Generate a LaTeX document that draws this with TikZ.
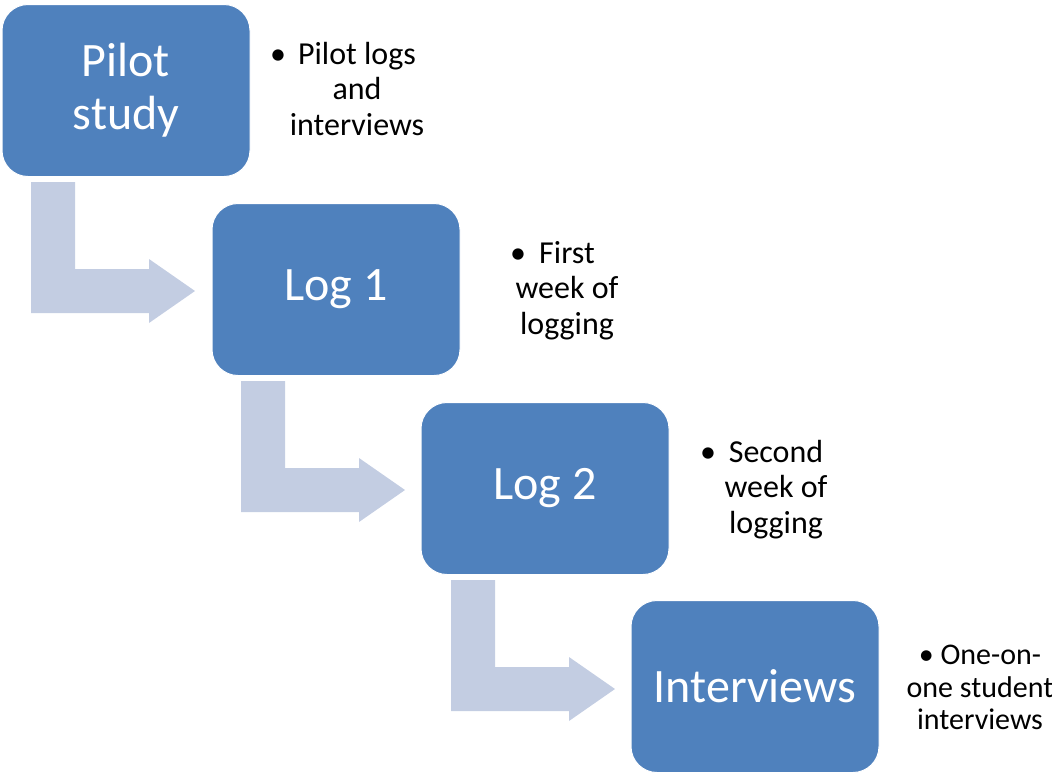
\documentclass[tikz,border=0pt]{standalone}
\usepackage{fontspec}
\setmainfont{Carlito}
\definecolor{boxblue}{HTML}{4F81BD}
\definecolor{arrowblue}{HTML}{C3CDE2}
\begin{document}
\begin{tikzpicture}[x=1pt,y=-1pt,
  stagebox/.style={rectangle, rounded corners=26pt, fill=boxblue, draw=white, line width=1pt,
    minimum width=248pt, minimum height=172pt, text=white, align=center,
    font=\fontsize{48}{53}\selectfont, inner sep=0pt},
  sidetext/.style={align=center, text=black, font=\fontsize{32}{35.5}\selectfont, inner sep=0pt},
  bullet/.style={text=black, font=\fontsize{32}{35.5}\selectfont, inner sep=0pt},
  bentarrow/.style={fill=arrowblue, draw=none}]
\useasboundingbox (0,0) rectangle (1052,772);
% bent arrows
\foreach \k in {0,1,2}{
  \begin{scope}[shift={({210*\k},{199*\k})}]
    \fill[arrowblue] (31,182) -- (75,182) -- (75,269) -- (149,269) -- (149,259) -- (195,291)
      -- (149,323) -- (149,313) -- (31,313) -- cycle;
  \end{scope}
}
% boxes
\node[stagebox] (pilot) at (126,90.5) {Pilot\\study};
\node[stagebox] (log1) at (336,289.5) {Log 1};
\node[stagebox] (log2) at (545,488.5) {Log 2};
\node[stagebox] (intv) at (755,686.5) {Interviews};
% side texts
\node[bullet] (b1) at (278,57) {•};
\node[sidetext, anchor=north] (t1) at (357,42) {Pilot logs\\and\\interviews};
\node[bullet] (b2) at (518,256) {•};
\node[sidetext, anchor=north] (t2) at (567,241) {First\\week of\\logging};
\node[bullet] (b3) at (708,455) {•};
\node[sidetext, anchor=north] (t3) at (776,440) {Second\\week of\\logging};
\node[sidetext, anchor=north, font=\fontsize{30}{32.5}\selectfont] (t4) at (980,645) {• One-on-\\one student\\interviews};
\end{tikzpicture}
\end{document}
